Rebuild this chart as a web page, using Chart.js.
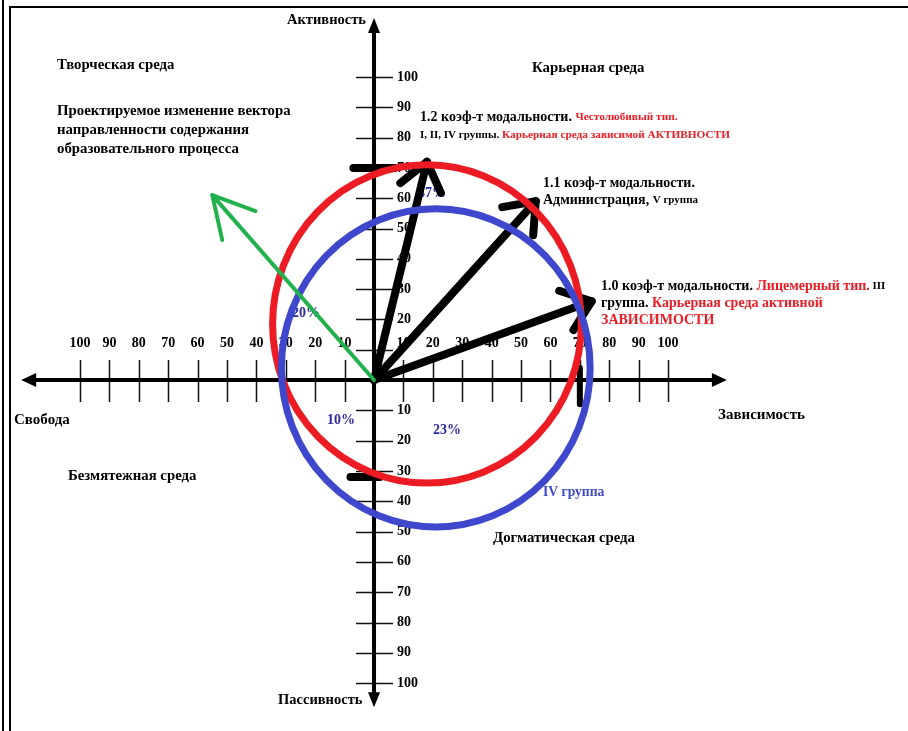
<!DOCTYPE html>
<html lang="ru">
<head>
<meta charset="utf-8">
<title>Вектор направленности содержания образовательного процесса</title>
<script src="https://cdn.jsdelivr.net/npm/chart.js@4.4.1/dist/chart.umd.min.js"></script>
<style>
	html, body { margin: 0; padding: 0; background: #fff; }
	#page { position: relative; width: 908px; height: 731px; }
	#page::before { content: ''; position: absolute; left: 2px; top: 0; bottom: 0; width: 2px; background: #000; }
	#page::after { content: ''; position: absolute; left: 9px; top: 6px; right: 0; bottom: 0; border-left: 2px solid #000; border-top: 2px solid #000; pointer-events: none; }
	#diagram { position: absolute; left: 0; top: 0; }
</style>
</head>
<body>
<div id="page"><canvas id="diagram"></canvas></div>
<script>
// **DATOS**
const tickValues = [10, 20, 30, 40, 50, 60, 70, 80, 90, 100];
const tickLabels = ['10', '20', '30', '40', '50', '60', '70', '80', '90', '100'];

// vectores de coeficiente de modalidad (negro)
const vectorNames = ['1.0', '1.1', '1.2'];
const vectorX = [74, 55, 18];
const vectorY = [26, 59, 72];

// vector proyectado (verde)
const projectedX = [0, -55];
const projectedY = [0, 61];

// círculos: rojo y azul (IV группа)
const circleNames = ['1.0–1.2', 'IV группа'];
const circleX = [18, 21];
const circleY = [18.5, 4];
const circleR = [52.5, 52.5];

// marcas gruesas sobre el eje vertical y trazo junto al 70
const markTopX = [-7, 7];
const markTopY = [70, 70];
const markLowX = [-8, 2];
const markLowY = [-32, -32];
const strokeX = [70, 70];
const strokeY = [4, -8];

const percentLabels = ['47%', '20%', '10%', '23%'];

// **ESTILO**
const FONT = "'Liberation Serif', 'Times New Roman', serif";
const RED = '#ed1c24';
const BLUE = '#3f48cc';
const GREEN = '#22b14c';
const NAVY = '#2a2aa6';
const circleColors = [RED, BLUE];

/**
 * Une dos listas de coordenadas en puntos {x, y}.
 */
function toPoints(xs, ys) {
	return xs.map((x, i) => ({ x, y: ys[i] }));
}

/**
 * Dataset de línea simple, con o sin punta de flecha.
 */
function lineDataset(label, points, color, width, arrow, order) {
	return {
		label,
		data: points,
		showLine: true,
		borderColor: color,
		backgroundColor: color,
		borderWidth: width,
		borderCapStyle: 'round',
		pointRadius: 0,
		pointHoverRadius: 0,
		arrow,
		order,
	};
}

function buildDatasets() {
	const sets = vectorNames.map((name, i) =>
		lineDataset(name, toPoints([0, vectorX[i]], [0, vectorY[i]]), '#000', 8, true, 2));
	sets.push(lineDataset('mark-top', toPoints(markTopX, markTopY), '#000', 8, false, 2));
	sets.push(lineDataset('mark-low', toPoints(markLowX, markLowY), '#000', 8, false, 2));
	sets.push(lineDataset('stroke', toPoints(strokeX, strokeY), '#000', 6, false, 2));
	sets.push(lineDataset('projected', toPoints(projectedX, projectedY), GREEN, 4, true, 1));
	return sets;
}

// **TEXTOS**
const notes = [
	{ text: 'Активность', x: 287, y: 20, size: 14.5 },
	{ text: 'Пассивность', x: 278, y: 700, size: 14.5 },
	{ text: 'Свобода', x: 14, y: 420, size: 15 },
	{ text: 'Зависимость', x: 718, y: 415, size: 15 },
	{ text: 'Творческая среда', x: 57, y: 65 },
	{ text: 'Проектируемое изменение вектора', x: 57, y: 111 },
	{ text: 'направленности содержания', x: 57, y: 130 },
	{ text: 'образовательного процесса', x: 57, y: 149 },
	{ text: 'Карьерная среда', x: 532, y: 68 },
	{ text: 'Безмятежная среда', x: 68, y: 476 },
	{ text: 'Догматическая среда', x: 493, y: 538 },
	{ text: circleNames[1], x: 543, y: 492, color: BLUE, size: 13.6 },
	{ text: percentLabels[0], x: 418, y: 193, color: NAVY, size: 14 },
	{ text: percentLabels[1], x: 292, y: 313, color: NAVY, size: 14 },
	{ text: percentLabels[2], x: 327, y: 420, color: NAVY, size: 14 },
	{ text: percentLabels[3], x: 433, y: 430, color: NAVY, size: 14 },
];

const richLines = [
	{ x: 420, y: 117, parts: [['1.2 коэф-т модальности. ', 14, '#000'], ['Честолюбивый тип.', 11.3, RED]] },
	{ x: 420, y: 135, parts: [['I, II, IV группы. ', 11, '#000'], ['Карьерная среда зависимой АКТИВНОСТИ', 11.3, RED]] },
	{ x: 543, y: 183, parts: [['1.1 коэф-т модальности.', 14, '#000']] },
	{ x: 543, y: 200, parts: [['Администрация, ', 14, '#000'], ['V группа', 11, '#000']] },
	{ x: 601, y: 286, parts: [['1.0 коэф-т модальности. ', 14, '#000'], ['Лицемерный тип.', 14, RED], [' III', 11, '#000']] },
	{ x: 601, y: 303, parts: [['группа. ', 14, '#000'], ['Карьерная среда активной', 14, RED]] },
	{ x: 601, y: 320, parts: [['ЗАВИСИМОСТИ', 14, RED]] },
];

/**
 * Escribe una línea formada por trozos de distinto tamaño y color.
 */
function drawRich(ctx, line) {
	let x = line.x;
	line.parts.forEach(([text, size, color]) => {
		ctx.font = `bold ${size}px ${FONT}`;
		ctx.fillStyle = color;
		ctx.fillText(text, x, line.y);
		x += ctx.measureText(text).width;
	});
}

// **PLUGINS**
/**
 * Ejes cruzados con flechas, marcas y rótulos, dibujados a partir de las escalas.
 */
const crossAxes = {
	id: 'crossAxes',
	beforeDatasetsDraw(chart) {
		const { ctx, scales: { x, y } } = chart;
		const ox = x.getPixelForValue(0);
		const oy = y.getPixelForValue(0);
		const left = x.getPixelForValue(-120);
		const right = x.getPixelForValue(120);
		const top = y.getPixelForValue(119.5);
		const bottom = y.getPixelForValue(-108);
		ctx.save();

		// marcas
		ctx.strokeStyle = '#111';
		ctx.lineWidth = 1.5;
		ctx.beginPath();
		tickValues.forEach(v => {
			[v, -v].forEach(val => {
				const px = Math.round(x.getPixelForValue(val)) + 0.5;
				ctx.moveTo(px, oy - 20);
				ctx.lineTo(px, oy + 22);
				const py = Math.round(y.getPixelForValue(val)) + 0.5;
				ctx.moveTo(ox - 18, py);
				ctx.lineTo(ox + 19, py);
			});
		});
		ctx.stroke();

		// líneas de los ejes
		ctx.strokeStyle = '#000';
		ctx.lineWidth = 4;
		ctx.beginPath();
		ctx.moveTo(left + 10, oy);
		ctx.lineTo(right - 10, oy);
		ctx.moveTo(ox, top + 10);
		ctx.lineTo(ox, bottom - 10);
		ctx.stroke();

		// puntas de flecha
		ctx.fillStyle = '#000';
		ctx.beginPath();
		ctx.moveTo(left, oy); ctx.lineTo(left + 15, oy - 7); ctx.lineTo(left + 15, oy + 7); ctx.closePath();
		ctx.moveTo(right, oy); ctx.lineTo(right - 15, oy - 7); ctx.lineTo(right - 15, oy + 7); ctx.closePath();
		ctx.moveTo(ox, top); ctx.lineTo(ox - 6, top + 15); ctx.lineTo(ox + 6, top + 15); ctx.closePath();
		ctx.moveTo(ox, bottom); ctx.lineTo(ox - 6, bottom - 15); ctx.lineTo(ox + 6, bottom - 15); ctx.closePath();
		ctx.fill();

		// rótulos de las marcas
		ctx.font = `bold 14px ${FONT}`;
		ctx.fillStyle = '#000';
		ctx.textBaseline = 'middle';
		ctx.textAlign = 'center';
		tickValues.forEach((v, i) => {
			ctx.fillText(tickLabels[i], x.getPixelForValue(v), oy - 37);
			ctx.fillText(tickLabels[i], x.getPixelForValue(-v), oy - 37);
		});
		ctx.textAlign = 'left';
		tickValues.forEach((v, i) => {
			if (i > 0) ctx.fillText(tickLabels[i], ox + 23, y.getPixelForValue(v));
			ctx.fillText(tickLabels[i], ox + 23, y.getPixelForValue(-v));
		});

		// textos del diagrama
		notes.forEach(n => {
			ctx.font = `bold ${n.size || 14.8}px ${FONT}`;
			ctx.fillStyle = n.color || '#000';
			ctx.fillText(n.text, n.x, n.y);
		});
		richLines.forEach(line => drawRich(ctx, line));
		ctx.restore();
	},
};

/**
 * Puntas de flecha y círculos (los círculos van justo antes del vector verde).
 */
const arrowsAndCircles = {
	id: 'arrowsAndCircles',
	beforeDatasetDraw(chart, args) {
		const ds = chart.data.datasets[args.index];
		if (ds.label !== 'projected') return;
		const { ctx, scales: { x, y } } = chart;
		ctx.save();
		ctx.lineWidth = 7;
		circleX.forEach((cx, i) => {
			const px = x.getPixelForValue(cx);
			const py = y.getPixelForValue(circleY[i]);
			const rx = x.getPixelForValue(cx + circleR[i]) - px;
			const ry = py - y.getPixelForValue(circleY[i] + circleR[i]);
			ctx.strokeStyle = circleColors[i];
			ctx.beginPath();
			ctx.ellipse(px, py, rx, ry, 0, 0, Math.PI * 2);
			ctx.stroke();
		});
		ctx.restore();
	},
	afterDatasetDraw(chart, args) {
		const ds = chart.data.datasets[args.index];
		if (!ds.arrow) return;
		const pts = args.meta.data;
		const a = pts[pts.length - 2];
		const b = pts[pts.length - 1];
		const angle = Math.atan2(b.y - a.y, b.x - a.x);
		const thick = ds.borderWidth > 5;
		const len = thick ? 34 : 46;
		const spread = thick ? 0.66 : 0.5;
		const { ctx } = chart;
		ctx.save();
		ctx.strokeStyle = ds.borderColor;
		ctx.lineWidth = ds.borderWidth;
		ctx.lineCap = 'round';
		ctx.beginPath();
		[-spread, spread].forEach(s => {
			ctx.moveTo(b.x, b.y);
			ctx.lineTo(b.x - len * Math.cos(angle + s), b.y - len * Math.sin(angle + s));
		});
		ctx.stroke();
		ctx.restore();
	},
};

// **INICIALIZACIÓN**
function init() {
	const canvas = document.getElementById('diagram');
	canvas.width = 908;
	canvas.height = 731;
	new Chart(canvas, {
		type: 'scatter',
		data: { datasets: buildDatasets() },
		options: {
			responsive: false,
			animation: false,
			layout: { padding: 0 },
			plugins: { legend: { display: false }, tooltip: { enabled: false } },
			scales: {
				x: { type: 'linear', display: false, min: -127.2, max: 181.6 },
				y: { type: 'linear', display: false, min: -115.8, max: 125.4 },
			},
		},
		plugins: [crossAxes, arrowsAndCircles],
	});
}

document.addEventListener('DOMContentLoaded', init);
</script>
</body>
</html>
